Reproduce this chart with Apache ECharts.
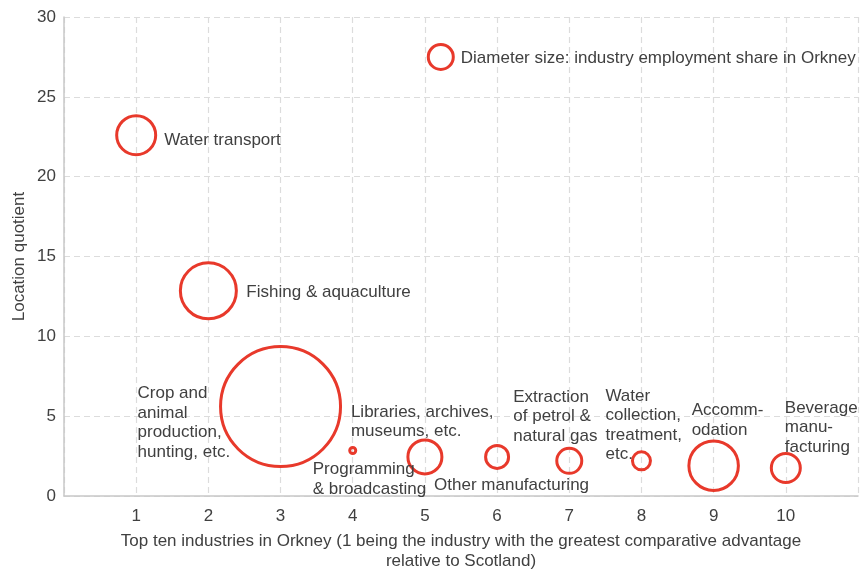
<!DOCTYPE html>
<html>
<head>
<meta charset="utf-8">
<script src="https://cdn.jsdelivr.net/npm/echarts@6/dist/echarts.min.js"></script>
<style>
  html, body { margin: 0; padding: 0; background: #fff; }
  #chart { width: 861px; height: 570px; }
</style>
</head>
<body>
<div id="chart"></div>
<script>
// rank of industry (x), location quotient (y), employment share (bubble diameter)
const ranks = [1, 2, 3, 4, 5, 6, 7, 8, 9, 10];
const quotients = [22.6, 12.85, 5.6, 2.85, 2.45, 2.45, 2.2, 2.2, 1.9, 1.75];
const shares = [3.9, 5.6, 12.0, 0.6, 3.4, 2.3, 2.5, 1.8, 4.95, 2.9];
const industries = [
  'Water transport',
  'Fishing & aquaculture',
  'Crop and\nanimal\nproduction,\nhunting, etc.',
  'Programming\n& broadcasting',
  'Libraries, archives,\nmuseums, etc.',
  'Other manufacturing',
  'Extraction\nof petrol &\nnatural gas',
  'Water\ncollection,\ntreatment,\netc.',
  'Accomm-\nodation',
  'Beverage\nmanu-\nfacturing'
];

// key bubble
const keyPoint = [5.22, 27.5];
const keyShare = 2.5;
const keyText = 'Diameter size: industry employment share in Orkney';

const RED = '#E8392B';
const TEXT = '#404040';
const FONT = 'Liberation Sans, Arial, sans-serif';
const FS = 17;
const LH = 19.5;

// label offsets from bubble centre to text top-left
const labelOffsets = [
  [28, 5 - LH / 2], [38, 1 - LH / 2], [-143, -13 - LH / 2], [-40, 19 - LH / 2],
  [-74, -45 - LH / 2], [-63, 28 - LH / 2], [-56, -64 - LH / 2], [-36, -65 - LH / 2],
  [-22, -55 - LH / 2], [-1, -60 - LH / 2]
];

const bubbles = ranks.map((r, i) => ({
  value: [r, quotients[i], shares[i]],
  symbolSize: shares[i] * 10,
  label: {
    show: true,
    formatter: industries[i],
    position: 'inside',
    offset: labelOffsets[i],
    align: 'left',
    verticalAlign: 'top'
  }
}));
bubbles.push({
  value: [keyPoint[0], keyPoint[1], keyShare],
  symbolSize: keyShare * 10,
  label: {
    show: true,
    formatter: keyText,
    position: 'inside',
    offset: [20, 1 - LH / 2],
    align: 'left',
    verticalAlign: 'top'
  }
});

const chart = echarts.init(document.getElementById('chart'));
chart.setOption({
  animation: false,
  textStyle: { fontFamily: FONT },
  grid: { left: 64, right: 3, top: 17, bottom: 74, outerBoundsMode: 'none', containLabel: false },
  xAxis: {
    type: 'value',
    min: 0, max: 11, interval: 1,
    name: 'Top ten industries in Orkney (1 being the industry with the greatest comparative advantage\nrelative to Scotland)',
    nameLocation: 'middle',
    nameGap: 36,
    nameTextStyle: { color: TEXT, fontSize: FS, fontFamily: FONT, lineHeight: LH },
    axisLine: { show: true, lineStyle: { color: '#c8c8c8', width: 1.5 } },
    axisTick: { show: false },
    axisLabel: {
      color: TEXT, fontSize: FS, fontFamily: FONT, margin: 12,
      formatter: v => (v >= 1 && v <= 10 ? String(v) : '')
    },
    splitLine: { show: true, lineStyle: { color: '#dcdcdc', type: [6, 4], width: 1.2 } }
  },
  yAxis: {
    type: 'value',
    min: 0, max: 30, interval: 5,
    name: 'Location quotient',
    nameLocation: 'middle',
    nameGap: 36,
    nameMoveOverlap: false,
    nameTextStyle: { color: TEXT, fontSize: FS, fontFamily: FONT },
    axisLine: { show: true, lineStyle: { color: '#c8c8c8', width: 1.5 } },
    axisTick: { show: false },
    axisLabel: { color: TEXT, fontSize: FS, fontFamily: FONT, margin: 8 },
    splitLine: { show: true, lineStyle: { color: '#dcdcdc', type: [6, 4], width: 1.2 } }
  },
  series: [{
    type: 'scatter',
    data: bubbles,
    itemStyle: { color: 'rgba(0,0,0,0)', borderColor: RED, borderWidth: 3, opacity: 1 },
    label: { color: TEXT, fontSize: FS, fontFamily: FONT, lineHeight: LH },
    emphasis: { disabled: true }
  }]
});
</script>
</body>
</html>
